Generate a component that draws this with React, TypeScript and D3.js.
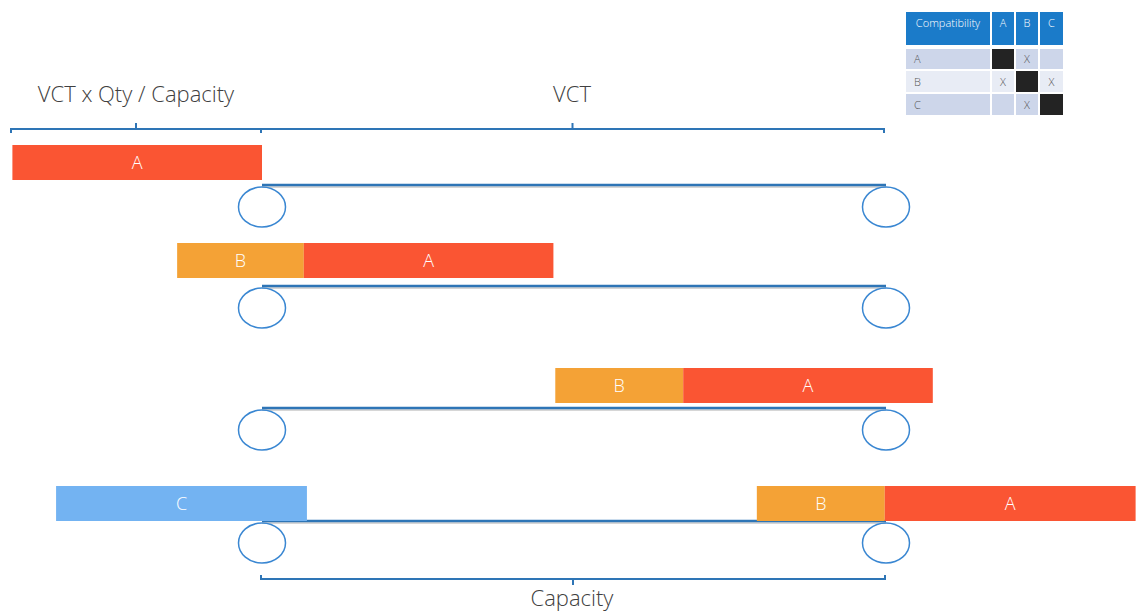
import React from 'react'
import * as d3 from 'd3'

// belt units: 0 = head pulley, 100 = tail pulley (capacity)
const categories = ['A', 'B', 'C']
const catColors = ['#fa5533', '#f4a236', '#73b3f2']

const rowBars = [
  [{ cat: 'A', start: -40, len: 40 }],
  [
    { cat: 'B', start: -13.6, len: 20.3 },
    { cat: 'A', start: 6.7, len: 40 },
  ],
  [
    { cat: 'B', start: 47, len: 20.5 },
    { cat: 'A', start: 67.5, len: 40 },
  ],
  [
    { cat: 'C', start: -33, len: 40.2 },
    { cat: 'B', start: 79.3, len: 20.5 },
    { cat: 'A', start: 99.8, len: 40.2 },
  ],
]
// belt line y and bar top y for each conveyor
const beltY = [185, 286, 408, 521]
const barTop = [145, 243, 368, 486]

const compatCols = ['A', 'B', 'C']
const compatRows = ['A', 'B', 'C']
const compatMatrix = [
  ['self', 'X', ''],
  ['X', 'self', 'X'],
  ['', 'X', 'self'],
]

const font = "'Segoe UI', 'Open Sans', sans-serif"
const blue = '#2e75b6'

const Brace = ({ x0, x1, y, dir }: { x0: number; x1: number; y: number; dir: number }) => {
  const mid = (x0 + x1) / 2
  return (
    <g stroke={blue} strokeWidth={2} fill="none">
      <path d={`M${x0},${y + 4 * dir}V${y}H${x1}V${y + 4 * dir}`} />
      <path d={`M${mid},${y}V${y - 6 * dir}`} />
    </g>
  )
}

const App = () => {
  const width = 1144
  const height = 613
  const x = d3.scaleLinear().domain([0, 100]).range([262, 886])
  const color = d3.scaleOrdinal<string, string>().domain(categories).range(catColors)
  const barH = 35
  const rx = 23.5
  const ry = 20

  // table layout
  const tx = [906, 992, 1016, 1040]
  const tw = [84, 22, 22, 23]
  const rowTops = [49, 71, 94]
  const rowH = [20, 21, 21]
  const rowFill = ['#cdd6ea', '#e8ecf5', '#cdd6ea']

  return (
    <svg
      width={width}
      height={height}
      style={{ position: 'absolute', left: 0, top: 0, background: '#fff' }}
      fontFamily={font}
      fontWeight={300}
    >
      {/* top braces */}
      <Brace x0={11} x1={x(0) - 1} y={129} dir={1} />
      <Brace x0={x(0) - 1} x1={x(100) - 2} y={129} dir={1} />
      <text x={136} y={102} fontSize={22} fill="#404040" textAnchor="middle">
        VCT x Qty / Capacity
      </text>
      <text x={572} y={102} fontSize={22} fill="#404040" textAnchor="middle">
        VCT
      </text>

      {rowBars.map((bars, i) => (
        <g key={i}>
          <line x1={x(0)} x2={x(100)} y1={beltY[i] + 2} y2={beltY[i] + 2} stroke="#c8c8c8" strokeWidth={1.5} />
          <line x1={x(0)} x2={x(100)} y1={beltY[i]} y2={beltY[i]} stroke={blue} strokeWidth={2.5} />
          {[0, 100].map((v) => (
            <ellipse
              key={v}
              cx={x(v)}
              cy={beltY[i] + ry + 2}
              rx={rx}
              ry={ry}
              fill="none"
              stroke="#3a87d2"
              strokeWidth={1.5}
            />
          ))}
          {bars.map((b, j) => (
            <g key={j}>
              <rect
                x={x(b.start)}
                y={barTop[i]}
                width={x(b.start + b.len) - x(b.start)}
                height={barH}
                fill={color(b.cat)}
              />
              <text
                x={x(b.start + b.len / 2)}
                y={barTop[i] + barH / 2 + 6}
                textAnchor="middle"
                fontSize={18}
                fill="#fff"
              >
                {b.cat}
              </text>
            </g>
          ))}
        </g>
      ))}

      {/* capacity brace */}
      <Brace x0={x(0) - 1} x1={x(100) - 1} y={579} dir={-1} />
      <text x={572} y={606} fontSize={22} fill="#404040" textAnchor="middle">
        Capacity
      </text>

      {/* compatibility table */}
      <g fontSize={11}>
        {['Compatibility', ...compatCols].map((h, k) => (
          <g key={h}>
            <rect x={tx[k]} y={12} width={tw[k]} height={33} fill="#1b7bc9" />
            <text x={tx[k] + tw[k] / 2} y={27} textAnchor="middle" fill="#fff">
              {h}
            </text>
          </g>
        ))}
        {compatRows.map((r, ri) => (
          <g key={r}>
            <rect x={tx[0]} y={rowTops[ri]} width={tw[0]} height={rowH[ri]} fill={rowFill[ri]} />
            <text x={tx[0] + 8} y={rowTops[ri] + rowH[ri] / 2 + 4} fill="#555">
              {r}
            </text>
            {compatMatrix[ri].map((v, ci) => (
              <g key={ci}>
                <rect
                  x={tx[ci + 1]}
                  y={rowTops[ri]}
                  width={tw[ci + 1]}
                  height={rowH[ri]}
                  fill={v === 'self' ? '#232323' : rowFill[ri]}
                />
                {v === 'X' && (
                  <text
                    x={tx[ci + 1] + tw[ci + 1] / 2}
                    y={rowTops[ri] + rowH[ri] / 2 + 4}
                    textAnchor="middle"
                    fill="#555"
                  >
                    X
                  </text>
                )}
              </g>
            ))}
          </g>
        ))}
      </g>
    </svg>
  )
}

export default App
